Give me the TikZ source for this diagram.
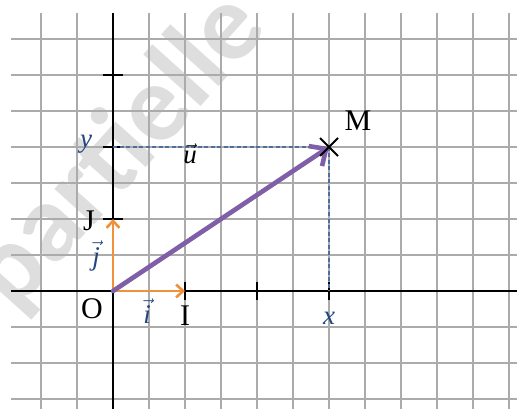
\documentclass[tikz,border=0pt]{standalone}
\usepackage{fontspec}
\setmainfont{Liberation Serif}
\newfontfamily\wmfont{Carlito}
\usetikzlibrary{arrows.meta}
\definecolor{gridc}{HTML}{ABABAB}
\definecolor{orangev}{HTML}{F0923C}
\definecolor{purplev}{HTML}{7E5FA8}
\definecolor{dashc}{HTML}{4F6E9C}
\definecolor{labc}{HTML}{23457F}
\definecolor{wmc}{HTML}{DEDEDE}
\begin{document}
\begin{tikzpicture}[x=1pt,y=-1pt,
  gridline/.style={gridc, line width=1.5pt},
  axisline/.style={black, line width=2.3pt},
  tickmark/.style={black, line width=1.8pt},
  unitvec/.style={orangev, line width=2.6pt, -{Straight Barb[length=7pt,width=13pt]}},
  mainvec/.style={purplev, line width=4.6pt, line cap=round, -{Straight Barb[length=13pt,width=24pt]}},
  proj/.style={dashc, line width=1.1pt, dash pattern=on 4pt off 2.5pt},
  crossline/.style={black, line width=2pt},
  caplab/.style={font=\fontsize{30}{34}\selectfont, inner sep=0pt},
  itlab/.style={font=\fontsize{27}{31}\selectfont\itshape, inner sep=0pt, text=labc},
  veclab/.style={font=\fontsize{27}{31}\selectfont, inner sep=0pt},
]
\useasboundingbox[fill=white] (0,0) rectangle (517,409);
% watermark
\begin{scope}
\clip (0,0) rectangle (517,409);
\node[rotate=48, text=wmc, font=\wmfont\bfseries\fontsize{110}{110}\selectfont, anchor=base west, inner sep=0pt] (wm) at (14,314) {partielle};
\end{scope}
% grid
\foreach \y in {39,75,...,399} \draw[gridline] (11,\y) -- (517,\y);
\foreach \x in {41,77,...,509} \draw[gridline] (\x,13) -- (\x,409);
% key points
\coordinate (O) at (113,291);
\coordinate (I) at (185,291);
\coordinate (J) at (113,219);
\coordinate (M) at (329,147);
\coordinate (Y) at (113,147);
\coordinate (X) at (329,291);
\coordinate (X2) at (257,291);
\coordinate (Y3) at (113,75);
\coordinate (xl) at (11,291);
\coordinate (xr) at (517,291);
\coordinate (yt) at (113,13);
\coordinate (yb) at (113,409);
% axes
\draw[axisline] (xl) -- (xr);
\draw[axisline] (yt) -- (yb);
% ticks
\foreach \p in {J,Y,Y3} \draw[tickmark] ([xshift=-10pt]\p) -- ([xshift=10pt]\p);
\foreach \p in {I,X2,X} \draw[tickmark] ([yshift=-9pt]\p) -- ([yshift=9pt]\p);
% projections
\draw[proj] (Y) -- (M);
\draw[proj] (M) -- (X);
% vectors
\draw[unitvec] (O) -- (I);
\draw[unitvec] (O) -- (J);
\draw[mainvec] (O) -- (M);
% cross at M
\draw[crossline] ([shift={(-9pt,-9pt)}]M) -- ([shift={(9pt,9pt)}]M);
\draw[crossline] ([shift={(-9pt,9pt)}]M) -- ([shift={(9pt,-9pt)}]M);
% labels
\node[caplab] (lO) at (92,309) {O};
\node[caplab] (lI) at (185,316) {I};
\node[caplab] (lJ) at (89,221) {J};
\node[caplab] (lM) at (358,121) {M};
\node[itlab] (ly) at (86,144) {y};
\node[itlab] (lx) at (329,318) {x};
\node[veclab, text=labc] (li) at (147,311) {$\vec{\mbox{\itshape i}}$};
\node[veclab, text=labc] (lj) at (96,256) {$\vec{\mbox{\itshape j}}$};
\node[veclab] (lu) at (190,154) {$\vec{\mbox{\itshape u}}$};
\end{tikzpicture}
\end{document}
